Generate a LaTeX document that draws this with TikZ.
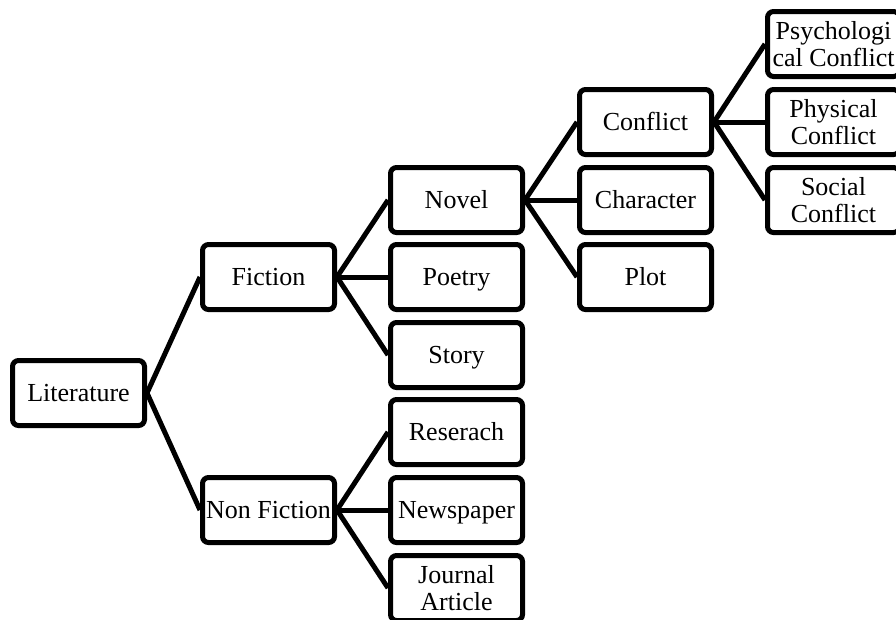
\documentclass[tikz,border=0pt]{standalone}
\usepackage{fontspec}
\setmainfont{Liberation Serif}
\begin{document}
\begin{tikzpicture}[x=1pt,y=-1pt,
        box/.style={draw,rounded corners=6pt,line width=5pt,minimum width=132pt,minimum height=65pt,inner sep=0pt,align=center,text height=20pt,text depth=4pt,font=\fontsize{26}{27}\selectfont},
        twoline/.style={text height=,text depth=},
        link/.style={line width=5pt}]
        \useasboundingbox (0,0) rectangle (896,619);

        \node[box] (lit) at (78.5,393){Literature};
        \node[box] (fic) at (268.5,277){Fiction};
        \node[box] (nonfic) at (268.5,510){Non Fiction};
        \node[box] (novel) at (456.5,200){Novel};
        \node[box] (poetry) at (456.5,277){Poetry};
        \node[box] (story) at (456.5,355){Story};
        \node[box] (research) at (456.5,432){Reserach};
        \node[box] (news) at (456.5,510){Newspaper};
        \node[box,twoline] (journal) at (456.5,588){Journal\\Article};
        \node[box] (conflict) at (645.5,122){Conflict};
        \node[box] (character) at (645.5,200){Character};
        \node[box] (plot) at (645.5,277){Plot};
        \node[box,twoline] (psych) at (833.5,44){Psychologi\\cal Conflict};
        \node[box,twoline] (phys) at (833.5,122){Physical\\Conflict};
        \node[box,twoline] (social) at (833.5,200){Social\\Conflict};

        \draw[link] (lit.east) -- (fic.west);
        \draw[link] (lit.east) -- (nonfic.west);
        \draw[link] (fic.east) -- (novel.west);
        \draw[link] (fic.east) -- (poetry.west);
        \draw[link] (fic.east) -- (story.west);
        \draw[link] (nonfic.east) -- (research.west);
        \draw[link] (nonfic.east) -- (news.west);
        \draw[link] (nonfic.east) -- (journal.west);
        \draw[link] (novel.east) -- (conflict.west);
        \draw[link] (novel.east) -- (character.west);
        \draw[link] (novel.east) -- (plot.west);
        \draw[link] (conflict.east) -- (psych.west);
        \draw[link] (conflict.east) -- (phys.west);
        \draw[link] (conflict.east) -- (social.west);
\end{tikzpicture}
\end{document}
